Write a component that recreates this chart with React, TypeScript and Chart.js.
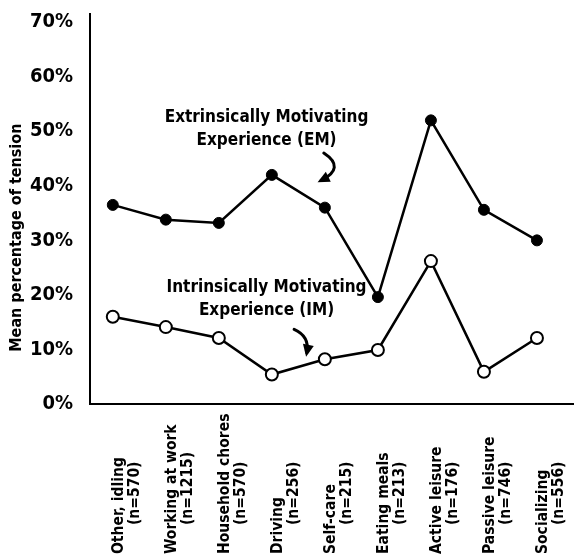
import { useEffect, useRef } from "react";
import { Chart, registerables } from "chart.js";

Chart.register(...registerables);

const categories = [
  "Other, idling",
  "Working at work",
  "Household chores",
  "Driving",
  "Self-care",
  "Eating meals",
  "Active leisure",
  "Passive leisure",
  "Socializing",
];
const sampleSizes = [
  "(n=570)",
  "(n=1215)",
  "(n=570)",
  "(n=256)",
  "(n=215)",
  "(n=213)",
  "(n=176)",
  "(n=746)",
  "(n=556)",
];
const emValues = [36.5, 33.8, 33.2, 42.0, 36.0, 19.6, 52.0, 35.6, 30.0];
const imValues = [16.0, 14.1, 12.1, 5.4, 8.2, 9.9, 26.2, 5.9, 12.1];
const yTickValues = [0, 10, 20, 30, 40, 50, 60, 70];
const yAxisTitle = "Mean percentage of tension";
const emLabel = ["Extrinsically Motivating", "Experience (EM)"];
const imLabel = ["Intrinsically Motivating", "Experience (IM)"];

const FAMILY = "'DejaVu Sans Condensed', 'DejaVu Sans', sans-serif";

function drawArrow(
  ctx: CanvasRenderingContext2D,
  p0: [number, number],
  c: [number, number],
  p1: [number, number]
) {
  ctx.save();
  ctx.strokeStyle = "#000";
  ctx.fillStyle = "#000";
  ctx.lineWidth = 3;
  ctx.lineCap = "round";
  ctx.beginPath();
  ctx.moveTo(p0[0], p0[1]);
  ctx.quadraticCurveTo(c[0], c[1], p1[0], p1[1]);
  ctx.stroke();
  const ang = Math.atan2(p1[1] - c[1], p1[0] - c[0]);
  const len = 12;
  const wid = 5.5;
  const tipX = p1[0] + Math.cos(ang) * 4;
  const tipY = p1[1] + Math.sin(ang) * 4;
  const bx = tipX - Math.cos(ang) * len;
  const by = tipY - Math.sin(ang) * len;
  ctx.beginPath();
  ctx.moveTo(tipX, tipY);
  ctx.lineTo(bx + Math.cos(ang + Math.PI / 2) * wid, by + Math.sin(ang + Math.PI / 2) * wid);
  ctx.lineTo(bx - Math.cos(ang + Math.PI / 2) * wid, by - Math.sin(ang + Math.PI / 2) * wid);
  ctx.closePath();
  ctx.fill();
  ctx.restore();
}

const annotationPlugin = {
  id: "annotations",
  afterDraw(chart: any) {
    const { ctx, scales, chartArea } = chart;
    const xs = scales.x;
    const ys = scales.y;
    ctx.save();
    ctx.fillStyle = "#000";

    // category labels, rotated
    ctx.font = `bold 15.5px ${FAMILY}`;
    ctx.textBaseline = "middle";
    ctx.textAlign = "left";
    categories.forEach((cat, i) => {
      const x = xs.getPixelForValue(i);
      ctx.save();
      ctx.translate(x + 6, chartArea.bottom + 150);
      ctx.rotate(-Math.PI / 2);
      ctx.fillText(cat, 0, 0);
      ctx.restore();
      ctx.save();
      ctx.translate(x + 22, chartArea.bottom + 121);
      ctx.rotate(-Math.PI / 2);
      ctx.fillText(sampleSizes[i], 0, 0);
      ctx.restore();
    });

    // y axis title
    ctx.save();
    ctx.font = `bold 16px ${FAMILY}`;
    ctx.textAlign = "center";
    ctx.translate(17, ys.getPixelForValue(30.5));
    ctx.rotate(-Math.PI / 2);
    ctx.fillText(yAxisTitle, 0, 0);
    ctx.restore();

    // series annotations
    ctx.font = `bold 17px ${FAMILY}`;
    ctx.textAlign = "center";
    const ax = xs.getPixelForValue(2.9);
    ctx.fillText(emLabel[0], ax, ys.getPixelForValue(52.5));
    ctx.fillText(emLabel[1], ax, ys.getPixelForValue(48.3));
    ctx.fillText(imLabel[0], ax, ys.getPixelForValue(21.3));
    ctx.fillText(imLabel[1], ax, ys.getPixelForValue(17.1));
    ctx.restore();

    drawArrow(
      ctx,
      [xs.getPixelForValue(3.98), ys.getPixelForValue(46.0)],
      [xs.getPixelForValue(4.4), ys.getPixelForValue(43.3)],
      [xs.getPixelForValue(3.93), ys.getPixelForValue(41.0)]
    );
    drawArrow(
      ctx,
      [xs.getPixelForValue(3.42), ys.getPixelForValue(13.7)],
      [xs.getPixelForValue(3.72), ys.getPixelForValue(12.4)],
      [xs.getPixelForValue(3.66), ys.getPixelForValue(9.4)]
    );
  },
};

export default function App() {
  const canvasRef = useRef<HTMLCanvasElement | null>(null);

  useEffect(() => {
    if (!canvasRef.current) return;
    const chart = new Chart(canvasRef.current, {
      type: "line",
      data: {
        datasets: [
          {
            label: "Extrinsically Motivating Experience (EM)",
            data: emValues.map((v, i) => ({ x: i, y: v })),
            borderColor: "#000",
            borderWidth: 2.5,
            pointRadius: 5.5,
            pointBackgroundColor: "#000",
            pointBorderColor: "#000",
            pointBorderWidth: 1,
            tension: 0,
          },
          {
            label: "Intrinsically Motivating Experience (IM)",
            data: imValues.map((v, i) => ({ x: i, y: v })),
            borderColor: "#000",
            borderWidth: 2.5,
            pointRadius: 6,
            pointBackgroundColor: "#fff",
            pointBorderColor: "#000",
            pointBorderWidth: 2,
            tension: 0,
          },
        ],
      },
      options: {
        animation: false,
        responsive: false,
        layout: { padding: { left: 0, top: 14, right: 6, bottom: 0 } },
        plugins: {
          legend: { display: false },
          tooltip: { enabled: false },
          title: { display: false },
        },
        scales: {
          x: {
            type: "linear",
            min: -0.43,
            max: 8.68,
            grid: { display: false },
            border: { display: true, color: "#000", width: 2 },
            ticks: { display: false },
            afterFit: (scale: any) => {
              scale.height = 155;
            },
          },
          y: {
            type: "linear",
            min: 0,
            max: 71.5,
            grid: { display: false },
            border: { display: true, color: "#000", width: 2 },
            ticks: {
              stepSize: 10,
              includeBounds: false,
              padding: 9,
              color: "#000",
              font: { family: FAMILY, weight: "bold", size: 20, lineHeight: 1 },
              callback: (v: any) => (yTickValues.includes(Number(v)) ? `${v}%` : ""),
            },
            afterFit: (scale: any) => {
              scale.width = 90;
              scale.paddingTop = 0;
            },
          },
        },
      },
      plugins: [annotationPlugin],
    } as any);
    return () => chart.destroy();
  }, []);

  return (
    <div style={{ position: "fixed", left: 0, top: 0, width: 581, height: 559, background: "#fff" }}>
      <canvas ref={canvasRef} width={581} height={559} style={{ display: "block" }} />
    </div>
  );
}
